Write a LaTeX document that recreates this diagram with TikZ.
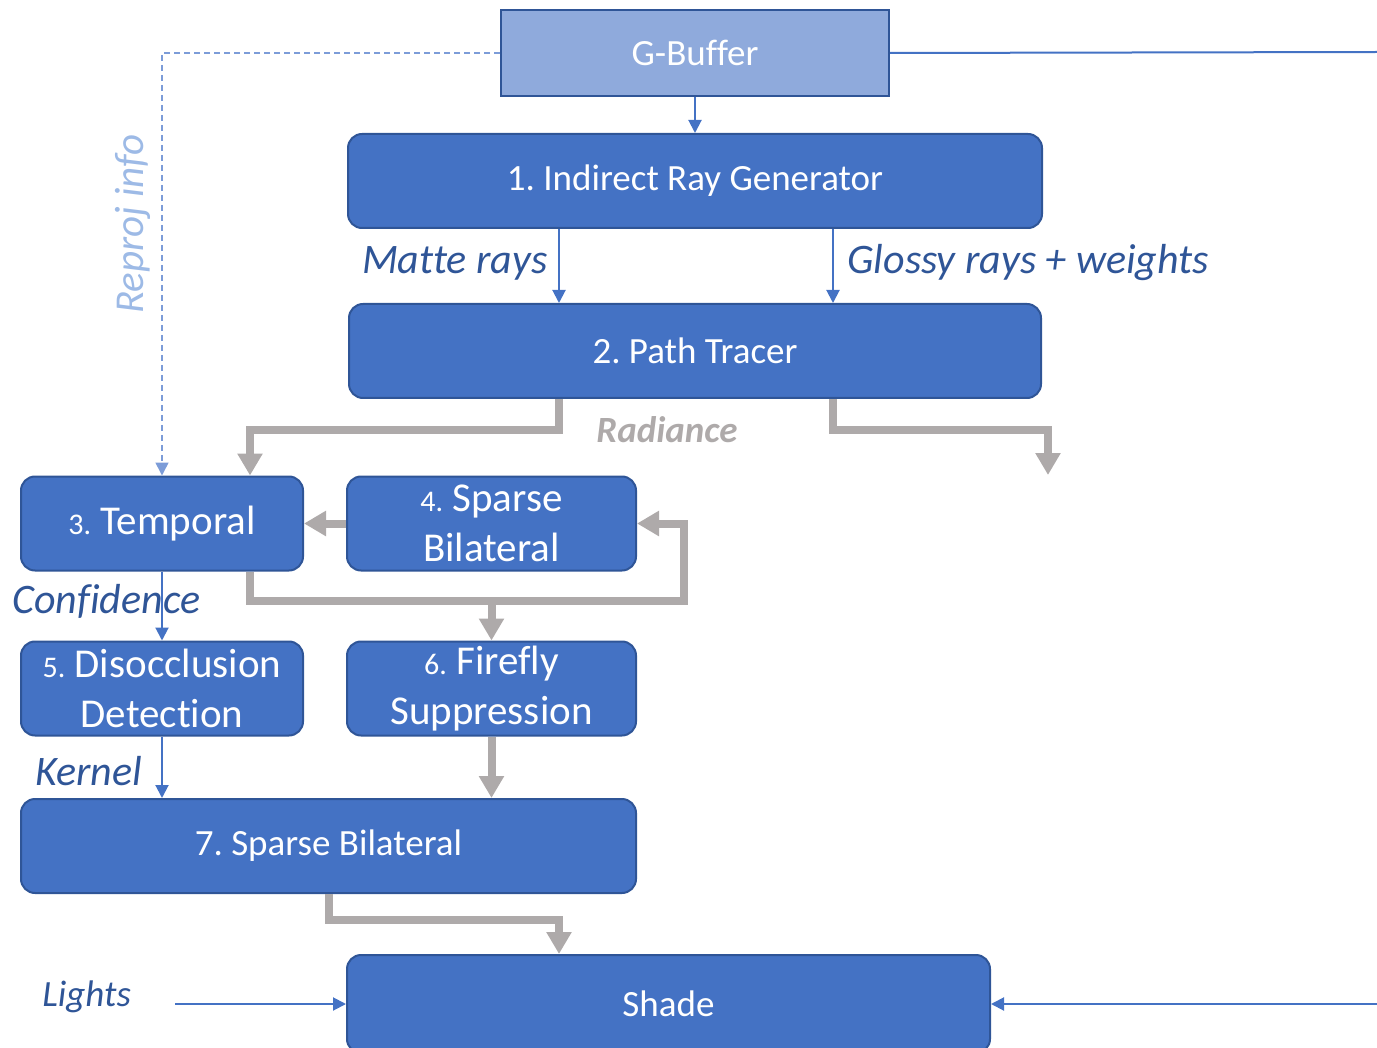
\documentclass[tikz,border=0pt]{standalone}
\usepackage{fontspec}
\setmainfont{Carlito}[Ligatures=NoCommon]
\usepackage{xcolor}
\usetikzlibrary{arrows.meta,positioning,calc}

\definecolor{stageblue}{HTML}{4472C4}
\definecolor{edgeblue}{HTML}{2F5597}
\definecolor{bufblue}{HTML}{8FAADC}
\definecolor{flowgray}{HTML}{AEAAAA}
\definecolor{infoblue}{HTML}{9DBAE6}
\definecolor{dashblue}{HTML}{7C9CD8}

\newcommand{\bigtxt}{\fontsize{20.5}{25}\selectfont}
\newcommand{\numtxt}{\fontsize{15}{18}\selectfont}

\begin{document}
\frenchspacing
\begin{tikzpicture}[x=0.5pt, y=-0.5pt,
    stage/.style={rectangle, draw=edgeblue, line width=1pt, fill=stageblue, text=white, align=center, rounded corners=7pt, minimum height=47pt, inner sep=0pt, font=\fontsize{18.5}{22}\selectfont},
    bigstage/.style={stage, font=\bigtxt},
    buffer/.style={rectangle, draw=edgeblue, line width=1pt, fill=bufblue, text=white, minimum width=194pt, minimum height=43pt, font=\fontsize{18.5}{22}\selectfont},
    note/.style={text=edgeblue, inner sep=0pt, font=\fontsize{21}{25}\selectfont\itshape},
    link/.style={draw=stageblue, line width=1pt, -{Triangle[width=6.5pt,length=6.5pt]}},
    plain/.style={draw=stageblue, line width=1pt},
    reproj/.style={draw=dashblue, line width=0.8pt, dash pattern=on 3pt off 2pt, -{Triangle[width=6.5pt,length=6.5pt]}},
    flow/.style={draw=flowgray, line width=4pt, -{Triangle[width=12pt,length=11pt]}}]

    \useasboundingbox (0,0) rectangle (1377,1048);
    \clip (0,0) rectangle (1377,1048);

    % Row 1: G-Buffer and ray generation
    \node [buffer] (gbuf) at (695,53) {G-Buffer};
    \node [stage, minimum width=347pt, below=18pt of gbuf] (gen) {1. Indirect Ray Generator};

    % Row 2: Path tracing
    \node [stage, minimum width=346pt, below=37pt of gen] (tracer) {2. Path Tracer};

    % Row 3: Temporal / sparse bilateral
    \node [bigstage, minimum width=141pt] (temporal) at (162,523.5) {{\numtxt 3.} Temporal};
    \node [bigstage, minimum width=144.5pt, right=21pt of temporal] (sparse) {{\numtxt 4.} Sparse\\Bilateral};

    % Row 4: Disocclusion / firefly
    \node [bigstage, minimum width=141pt, below=34.5pt of temporal] (disocc) {{\numtxt 5.} Disocclusion\\Detection};
    \node [bigstage, minimum width=144.5pt, below=34.5pt of sparse] (firefly) {{\numtxt 6.} Firefly\\Suppression};

    % Row 5: Final filter
    \node [stage, minimum width=307.5pt] (filter) at (328.5,846) {7. Sparse Bilateral};

    % Row 6: Shading
    \node [stage, minimum width=321.5pt, minimum height=49pt] (shade) at (668.5,1004) {Shade};

    % Helper coordinates
    \coordinate (xm) at (559,0);
    \coordinate (xg) at (833,0);
    \coordinate (xt) at (250,0);
    \coordinate (xloop) at (684,0);
    \coordinate (yrad) at (0,430);
    \coordinate (yloop) at (0,601);
    \coordinate (yshade) at (0,920);
    \coordinate (radout) at (1048,475);
    \coordinate (gbufout) at (1377,52);
    \coordinate (lightsrc) at (175,1004);
    \coordinate (shadesrc) at (1377,1004);

    % Connectors
    \draw [link] (gbuf.south) -- (gen.north -| gbuf.south);
    \draw [plain] (gbuf.east) -- (gbufout);
    \draw [reproj] (gbuf.west) -| (temporal.north);
    \draw [link] (gen.south -| xm) -- (tracer.north -| xm);
    \draw [link] (gen.south -| xg) -- (tracer.north -| xg);
    \draw [flow] (tracer.south -| xm) |- (xt |- yrad) -- (temporal.north -| xt);
    \draw [flow] (tracer.south -| xg) |- (radout |- yrad) -- (radout);
    \draw [flow] (sparse.west) -- (temporal.east);
    \draw [flow] (temporal.south -| xt) |- (xloop |- yloop) |- (sparse.east);
    \draw [flow] (sparse.south |- yloop) -- (firefly.north);
    \draw [link] (temporal.south) -- (disocc.north);
    \draw [link] (disocc.south) -- (filter.north -| disocc.south);
    \draw [flow] (firefly.south) -- (filter.north -| firefly.south);
    \draw [flow] (filter.south) |- (xm |- yshade) -- (shade.north -| xm);
    \draw [link] (lightsrc) -- (shade.west);
    \draw [link] (shadesrc) -- (shade.east);

    % Labels
    \node [note, anchor=east] (matte) at (548,263) {Matte rays};
    \node [note, anchor=west] (glossy) at (847,263) {Glossy rays + weights};
    \node [note, text=flowgray, font=\fontsize{18.5}{22}\selectfont\bfseries\itshape] (radiance) at (667,430) {Radiance};
    \node [note, anchor=west] (conf) at (12,601) {Confidence};
    \node [note, anchor=west] (kernel) at (35,771) {Kernel};
    \node [note, anchor=west, font=\fontsize{18.5}{22}\selectfont\itshape] (lights) at (42,997) {Lights};
    \node [note, text=infoblue, rotate=90, font=\fontsize{20.5}{25}\selectfont\itshape] (info) at (133,224) {Reproj info};
\end{tikzpicture}
\end{document}
